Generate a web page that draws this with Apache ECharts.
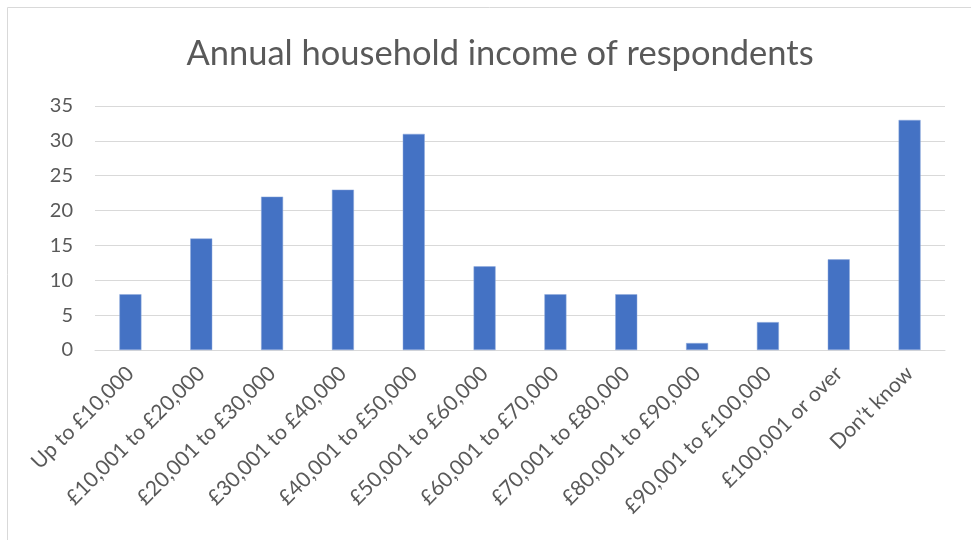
<!DOCTYPE html>
<html><head><meta charset="utf-8">
<script src="https://cdn.jsdelivr.net/npm/echarts@6/dist/echarts.min.js"></script>
<style>html,body{margin:0;padding:0;background:#fff}#c{width:971px;height:540px}</style>
</head><body><div id="c"></div>
<script>
const categories = ["Up to £10,000","£10,001 to £20,000","£20,001 to £30,000","£30,001 to £40,000","£40,001 to £50,000","£50,001 to £60,000","£60,001 to £70,000","£70,001 to £80,000","£80,001 to £90,000","£90,001 to £100,000","£100,001 or over","Don’t know"];
const values = [8,16,22,23,31,12,8,8,1,4,13,33];
const chart = echarts.init(document.getElementById('c'));
chart.setOption({
  animation:false,
  graphic:[{type:'rect',shape:{x:7.5,y:7.5,width:970,height:540},style:{fill:'none',stroke:'#d9d9d9',lineWidth:1},silent:true}],
  title:{text:'Annual household income of respondents',left:495,textAlign:'center',top:31,
    textStyle:{fontFamily:'Lato',fontSize:34.5,fontWeight:'normal',color:'#595959'}},
  grid:{left:95,right:26,top:106,bottom:190},
  xAxis:{type:'category',data:categories,
    axisLine:{lineStyle:{color:'#d9d9d9',width:1}},axisTick:{show:false},
    axisLabel:{rotate:45,interval:0,fontFamily:'Lato',fontSize:21,color:'#595959',margin:20}},
  yAxis:{type:'value',min:0,max:35,interval:5,
    axisLine:{show:false},axisTick:{show:false},
    splitLine:{lineStyle:{color:'#d9d9d9',width:1}},
    axisLabel:{fontFamily:'Lato',fontSize:20,color:'#595959',margin:22}},
  series:[{type:'bar',data:values,barWidth:22,
    itemStyle:{color:'#4472C4',borderColor:'#8faadc',borderWidth:0.5}}]
});
</script></body></html>
